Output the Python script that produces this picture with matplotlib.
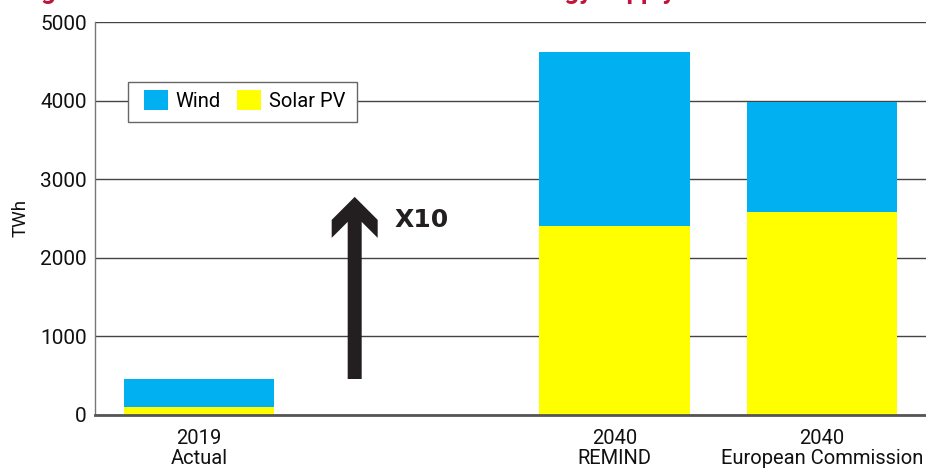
import matplotlib
matplotlib.use("Agg")
import matplotlib.pyplot as plt
from matplotlib.patches import Polygon, Patch, Rectangle
import numpy as np

# ---- data ----
years = ["2019", "", "2040", "2040"]
sources = ["Actual", "", "REMIND", "European Commission"]
solar_pv = [100, 0, 2400, 2580]
wind_total = [458, 0, 4620, 3985]          # top of stacked bar (solar + wind)
wind = [t - s for t, s in zip(wind_total, solar_pv)]
bar_idx = [0, 2, 3]
yticks = [0, 1000, 2000, 3000, 4000, 5000]
growth_label = "X10"
title = "Figure 1: Wind and solar in the EU's future energy supply"

WIND_C = "#00B0F0"
SOLAR_C = "#FFFF00"
plt.rcParams['font.family'] = ['Roboto', 'DejaVu Sans']

fig = plt.figure(figsize=(9.26, 4.71), dpi=100)
ax = fig.add_axes([95/926, 1-415/471, 831/926, 393/471])

xs = np.array(bar_idx)
s_vals = np.array([solar_pv[i] for i in bar_idx])
w_vals = np.array([wind[i] for i in bar_idx])
ax.bar(xs, s_vals, width=0.725, color=SOLAR_C, zorder=2)
ax.bar(xs, w_vals, bottom=s_vals, width=0.725, color=WIND_C, zorder=2)

ax.set_xlim(-0.5, 3.5)
ax.set_ylim(0, 5000)
ax.set_yticks(yticks)
ax.set_yticklabels([str(v) for v in yticks], fontsize=15, color="#111")
ax.yaxis.grid(True, color="#444", lw=1)
ax.set_axisbelow(True)
ax.tick_params(axis='y', length=0, pad=6)
ax.set_xticks(bar_idx)
ax.set_xticklabels([f"{years[i]}\n{sources[i]}" for i in bar_idx], fontsize=14.5,
                   color="#111", linespacing=1.1)
ax.tick_params(axis='x', length=0, pad=10)

for sp in ["top", "right"]:
    ax.spines[sp].set_visible(False)
ax.spines["left"].set_color("#777")
ax.spines["left"].set_linewidth(1)
ax.spines["bottom"].set_color("#555")
ax.spines["bottom"].set_linewidth(2)

ax.set_ylabel("TWh", fontsize=13.5, color="#111")
ax.yaxis.set_label_coords((30-95)/831, (415-218)/393)

# legend box + legend
ax_w, ax_h = 831, 393
box = Rectangle(((128-95)/ax_w, (415-122)/ax_h), (357-128)/ax_w, 40/ax_h,
                transform=ax.transAxes, facecolor="white", edgecolor="#666",
                lw=1, zorder=5)
ax.add_patch(box)
handles = [Patch(facecolor=WIND_C, edgecolor='none', label="Wind"),
           Patch(facecolor=SOLAR_C, edgecolor='none', label="Solar PV")]
leg = ax.legend(handles=handles, loc='upper left', bbox_to_anchor=((144-95)/ax_w, (415-90)/ax_h),
                borderaxespad=0, borderpad=0, ncol=2, fontsize=14.5, frameon=False,
                handlelength=1.2, handleheight=1.15, handletextpad=0.38, columnspacing=0.8)
leg.set_zorder(6)

# growth arrow from 2019 total up, drawn with pixel offsets around data anchors
ax_x = 0.75
base_y = wind_total[0]
tip_y = 2775
fig.canvas.draw()
p0 = ax.transData.transform((ax_x, base_y))
p1 = ax.transData.transform((ax_x, tip_y))
hw, sw = 23, 7
cx, ty, by = p0[0], p1[1], p0[1]
pts = [(cx-sw, by), (cx+sw, by), (cx+sw, ty-25), (cx+hw, ty-41), (cx+hw, ty-23),
       (cx, ty), (cx-hw, ty-23), (cx-hw, ty-41), (cx-sw, ty-25)]
arrow = Polygon(pts, closed=True, facecolor="#231F20", edgecolor='none',
                transform=None, zorder=4)
fig.add_artist(arrow)
ax.text(0.943, 2480, growth_label, fontsize=18, fontweight='bold', family='DejaVu Sans',
        color="#231F20", va='center', ha='left')

# cut-off title at very top
fig.text(20/926, 1 + 1.0/471, title, fontsize=18.6, fontweight='bold', color="#C0143C",
         ha='left', va='baseline')

fig.savefig("out.png", dpi=100)
